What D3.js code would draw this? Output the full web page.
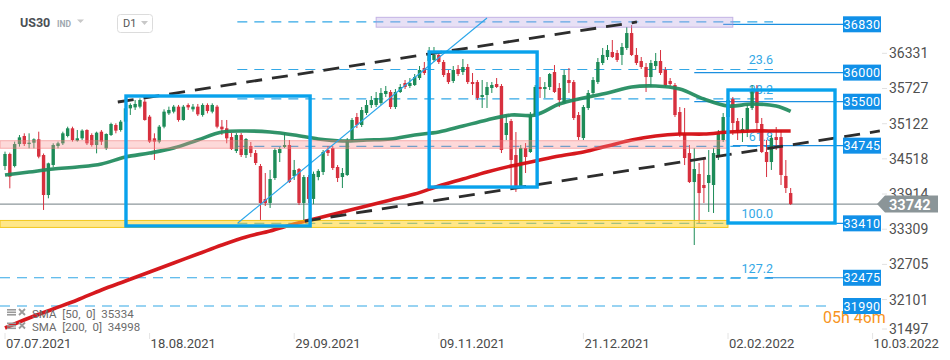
<!DOCTYPE html>
<html><head><meta charset="utf-8">
<script src="https://cdn.jsdelivr.net/npm/d3@7"></script>
<style>body{margin:0;background:#fff;} svg{display:block;font-family:Roboto,"Noto Sans",sans-serif;}</style>
</head><body><svg id="c" width="950" height="360"></svg>
<script>
// ---- DATA ----
const opens  = [34395,34602,34395,34773,34911,34773,34796,34854,34584,33897,34413,34739,34785,34911,35043,34831,34871,35014,34928,34756,34985,34699,34928,35100,35014,35157,35386,35403,35415,35501,35243,34871,34814,35071,35300,35329,35415,35186,35444,35369,35415,35272,35444,35329,35415,35071,35043,34893,34653,34928,34584,34739,34618,34395,33828,33760,34189,34618,34722,34756,34224,34344,33760,34206,33830,34206,34292,34670,34704,34378,34206,34241,34842,35237,35100,35306,35443,35443,35478,35632,35667,35409,35667,35821,35770,35787,35907,36079,36200,36217,36303,36182,35993,35856,36062,36010,36096,35838,35838,35581,35615,35735,35804,35770,34928,35168,34584,34034,34704,34636,35271,35753,35718,35753,36010,35735,35478,35873,35838,35271,34876,35392,35650,35838,36165,36268,36354,36337,36303,36423,36680,36303,36199,36096,35924,36113,36199,36045,35856,35787,35323,34945,34618,34120,34258,34069,34103,34069,34550,34842,35237,35546,35168,34979,35014,35392,35701,35117,34636,34464,34893,34893,34224,33931];
const highs  = [34642,34625,34814,34928,34957,34957,34871,34985,34610,34453,34785,34814,34985,35071,35071,35014,35026,35026,34957,34985,35014,34957,35140,35129,35186,35415,35472,35529,35558,35541,35272,34957,35100,35369,35415,35444,35444,35444,35472,35461,35461,35472,35472,35472,35444,35186,35186,34962,34962,34962,34876,34808,34670,34430,34275,34327,34704,34722,34962,34842,34499,34361,34241,34241,34300,34340,34670,34739,34739,34412,34361,34876,35220,35306,35409,35529,35598,35667,35735,35770,35701,35718,35804,35873,35907,35976,36113,36182,36440,36440,36354,36217,36045,36113,36130,36234,36148,35993,35873,35873,35838,35838,35907,35804,35271,35203,34979,34756,34790,35323,35787,35924,35838,35993,36130,35821,36045,36079,35873,35323,35443,35701,35924,36251,36423,36474,36560,36388,36509,36783,36818,36423,36268,36165,36217,36337,36388,36096,35907,35821,35409,35392,34756,34704,34447,34550,34670,34704,35014,35306,35581,35581,35220,35220,35443,35787,35787,35220,34842,34928,35065,35014,34498,34017];
const lows   = [34327,34012,34372,34728,34739,34699,34699,34527,33640,33840,34372,34699,34756,34888,34814,34814,34842,34756,34728,34613,34756,34670,34911,34957,34985,35140,35272,35358,35386,35174,34790,34499,34785,35043,35272,35300,35157,35174,35358,35329,35254,35243,35300,35300,35043,34928,34785,34670,34618,34550,34533,34550,34412,33468,33708,33674,34155,34464,34704,34103,34155,33725,33468,33760,33740,34150,34241,34567,34327,34120,34017,34224,34808,35048,35065,35271,35392,35409,35443,35581,35375,35375,35650,35718,35735,35770,35873,35959,36079,36182,36148,35924,35804,35821,35941,35959,35804,35615,35529,35392,35392,35650,35735,34618,34842,34017,33949,34017,34275,34620,35237,35564,35564,35701,35650,35409,35460,35650,35186,34842,34842,35357,35615,35804,36130,36217,36251,36182,36130,36388,36285,36130,36062,35667,35753,36045,35959,35753,35770,35237,34893,34412,34103,33038,33416,33760,33605,33588,34498,34808,35203,34928,34842,34808,34893,35357,35014,34618,34206,34327,34670,34069,33931,33725];
const closes = [34602,34212,34773,34888,34773,34796,34854,34556,33897,34441,34756,34785,34957,35043,34842,34871,35003,34785,34756,34968,34814,34945,35117,35003,35157,35386,35444,35461,35529,35186,34814,34814,35071,35329,35358,35415,35186,35415,35403,35415,35283,35444,35340,35444,35071,35026,34871,34687,34928,34584,34859,34618,34447,33760,33760,34172,34670,34687,34756,34120,34327,33760,34206,33830,34260,34310,34636,34618,34361,34189,34275,34842,35186,35100,35357,35443,35529,35564,35650,35684,35409,35667,35753,35753,35821,35924,36045,35993,36300,36303,36182,35959,35838,36045,35976,36096,35838,35804,35564,35615,35753,35787,35753,34670,35134,34499,34017,34704,34550,35271,35753,35718,35753,35976,35667,35529,35959,35821,35220,34893,35409,35650,35873,36182,36303,36388,36268,36217,36440,36680,36303,36165,36096,35924,36165,36199,35993,35787,35804,35271,34945,34533,34120,34344,33931,34017,34241,34618,34962,35237,35529,35134,34997,35031,35392,35701,35134,34636,34464,34876,34842,34241,34017,33742];

const smaIdx    = [0,5,10,15,20,25,30,35,40,45,50,55,60,65,70,75,80,85,90,95,100,105,110,115,120,125,130,135,140,145,150,155,160,163];
const sma50     = [34241,34292,34344,34378,34430,34550,34618,34704,34842,34979,34997,34979,34928,34859,34825,34842,34859,34928,34979,35082,35186,35271,35271,35460,35564,35650,35753,35770,35718,35546,35426,35460,35426,35334];
const sma200    = [31612,31784,31939,32093,32265,32420,32574,32729,32883,33038,33176,33279,33399,33502,33605,33708,33811,33914,34052,34172,34292,34395,34481,34567,34636,34739,34842,34911,34945,34945,34979,34997,34997,34998];

const dateIdx    = [0,30,60,90,120,150,180];
const dateLabels = ["07.07.2021","18.08.2021","29.09.2021","09.11.2021","21.12.2021","02.02.2022","10.03.2022"];
const yTicks     = [36331,35727,35122,34518,33914,33309,32705,32101,31497];

const levels     = [36830,36000,35500,34745,33410,32475,31990];
const levelFrom  = [149,143,143,151,150,158,0];     // bar index where level line starts
const fibTop = 36870, fibBottom = 33410;
const fibRatios  = [0,23.6,38.2,61.8,100,127.2];
const fibLabels  = ["","23.6","38.2","61.8","100.0","127.2"];
const lastPrice  = 33742;
const bands      = [[34700,34830],[33340,33460],[36780,36950]];
const bandFrom   = [-1,-1,77];
const bandTo     = [150,150,151];
// trend lines: [i0, v0, i1, v1]
const trendBlack = [[23.4,35495,131.1,36870],[62.2,33450,181.5,34997]];
const trendBlue  = [48.3,33416,100,36938];
// boxes: [i0, i1, vTop, vBottom]
const boxes      = [[25.1,63.3,35598,33365],[88,110.4,36354,34034],[150,172.2,35701,33416]];

// ---- SCALES ----
const svg = d3.select("#c");
const x = d3.scaleLinear().domain([0,180]).range([5,872.6]);
const y = d3.scaleLinear().domain([36830,31990]).range([24.3,306]);
const upC = "#1d8c58", dnC = "#d7303e", blue = "#33a8e6";

// header
svg.append("text").attr("x",20).attr("y",27).attr("font-size",12.5).attr("font-weight",700).attr("fill","#4b5055").text("US30");
svg.append("text").attr("x",57).attr("y",26.5).attr("font-size",8.5).attr("font-weight",700).attr("fill","#a0a8b0").text("IND");
svg.append("path").attr("d","M77,19.5 L84,19.5 L80.5,23 Z").attr("fill","#c8c8c8");
svg.append("rect").attr("x",117.5).attr("y",14.5).attr("width",35).attr("height",18).attr("rx",3).attr("fill","#fff").attr("stroke","#dcdcdc");
svg.append("text").attr("x",123).attr("y",27).attr("font-size",11).attr("fill","#555").text("D1");
svg.append("path").attr("d","M141,21 L148,21 L144.5,25 Z").attr("fill","#c8c8c8");

const g = svg.append("g");
const fibVal = r => fibTop - (fibTop - fibBottom) * r / 100;

// fib labels (behind candles)
fibRatios.forEach((r,k)=>{
  if(!fibLabels[k]) return;
  g.append("text").attr("x",773).attr("y",y(fibVal(r))-5).attr("text-anchor","end")
   .attr("font-size",12.5).attr("fill",blue).text(fibLabels[k]);
});
// fib dashed lines
fibRatios.forEach(r=>{
  g.append("line").attr("x1",x(48.2)).attr("x2",773).attr("y1",y(fibVal(r))).attr("y2",y(fibVal(r)))
   .attr("stroke",blue).attr("stroke-width",1.2).attr("stroke-dasharray","10,7");
});
// dashed full-width lines for lower levels
[32475,31990].forEach((v,k)=>{
  g.append("line").attr("x1",0).attr("x2",k?830:770).attr("y1",y(v)).attr("y2",y(v))
   .attr("stroke",blue).attr("stroke-width",1.2).attr("stroke-dasharray","10,7");
});
// solid level lines
levels.forEach((v,k)=>{
  if(levelFrom[k]===0) return;
  g.append("line").attr("x1",x(levelFrom[k])).attr("x2",845).attr("y1",y(v)).attr("y2",y(v))
   .attr("stroke","#1b8fe0").attr("stroke-width",1.2);
});
// last price line
g.append("line").attr("x1",0).attr("x2",878).attr("y1",y(lastPrice)).attr("y2",y(lastPrice))
 .attr("stroke","#8d979b").attr("stroke-width",1.2);

// candles
const idx = d3.range(opens.length);
const cg = g.append("g");
cg.selectAll("line.w").data(idx).join("line")
  .attr("x1",i=>x(i)).attr("x2",i=>x(i)).attr("y1",i=>y(highs[i])).attr("y2",i=>y(lows[i]))
  .attr("stroke",i=>closes[i]>=opens[i]?upC:dnC).attr("stroke-width",1);
cg.selectAll("rect.b").data(idx).join("rect")
  .attr("x",i=>x(i)-1.7).attr("width",3.4)
  .attr("y",i=>y(Math.max(opens[i],closes[i])))
  .attr("height",i=>Math.max(1,Math.abs(y(opens[i])-y(closes[i]))))
  .attr("fill",i=>closes[i]>=opens[i]?upC:dnC);

// SMA lines
const line = d3.line().x((d,k)=>x(smaIdx[k])).y(d=>y(d)).curve(d3.curveCatmullRom);
g.append("path").attr("d",line(sma200)).attr("fill","none").attr("stroke","#d40d12").attr("stroke-width",3.6).attr("opacity",0.95);
g.append("path").attr("d",line(sma50)).attr("fill","none").attr("stroke","#1e8a5c").attr("stroke-width",3.6).attr("opacity",0.92);

// bands
const bandFill = ["rgba(250,140,140,0.33)","rgba(255,212,40,0.55)","rgba(185,165,225,0.35)"];
const bandStroke = ["rgba(240,120,120,0.55)","rgba(240,190,0,0.85)","rgba(165,140,215,0.6)"];
bands.forEach((b,k)=>{
  const x0 = bandFrom[k]<0?0:x(bandFrom[k]);
  g.append("rect").attr("x",x0).attr("width",x(bandTo[k])-x0).attr("y",y(b[1])).attr("height",y(b[0])-y(b[1]))
   .attr("fill",bandFill[k]).attr("stroke",bandStroke[k]).attr("stroke-width",1);
});

// trend lines
trendBlack.forEach(t=>{
  g.append("line").attr("x1",x(t[0])).attr("y1",y(t[1])).attr("x2",x(t[2])).attr("y2",y(t[3]))
   .attr("stroke","#2d2d2d").attr("stroke-width",2.8).attr("stroke-dasharray","16,10");
});
g.append("line").attr("x1",x(trendBlue[0])).attr("y1",y(trendBlue[1])).attr("x2",x(trendBlue[2])).attr("y2",y(trendBlue[3]))
 .attr("stroke","#2aa6ea").attr("stroke-width",1.1);

// boxes
boxes.forEach(b=>{
  g.append("rect").attr("x",x(b[0])).attr("y",y(b[2])).attr("width",x(b[1])-x(b[0])).attr("height",y(b[3])-y(b[2]))
   .attr("fill","none").attr("stroke","#08a2ec").attr("stroke-width",3.4);
});

// countdown text (partly under label)
svg.append("text").attr("x",823).attr("y",323).attr("font-size",16).attr("fill","#f7941d").text("05h 46m");

// level label boxes
levels.forEach(v=>{
  svg.append("rect").attr("x",843).attr("y",y(v)-8).attr("width",38).attr("height",16).attr("fill","#1190e8");
  svg.append("text").attr("x",862).attr("y",y(v)+4.5).attr("text-anchor","middle").attr("font-size",12.5)
    .attr("letter-spacing",0.4).attr("fill","#fff").text(v);
});

// right axis
yTicks.forEach(v=>{
  const yy = Math.min(y(v),329);
  svg.append("line").attr("x1",882).attr("x2",887).attr("y1",yy).attr("y2",yy).attr("stroke","#e2e2e2");
  svg.append("text").attr("x",889).attr("y",yy+5).attr("font-size",14).attr("fill","#505050").text(v);
});
// last price tag
const ly = y(lastPrice);
svg.append("path").attr("d",`M877,${ly} L885,${ly-8.5} L938,${ly-8.5} L938,${ly+8.5} L885,${ly+8.5} Z`).attr("fill","#8b9598");
svg.append("text").attr("x",889).attr("y",ly+5.5).attr("font-size",14.5).attr("font-weight",700).attr("fill","#fff").text(lastPrice);

// x axis
dateIdx.forEach((d,k)=>{
  svg.append("line").attr("x1",x(d)).attr("x2",x(d)).attr("y1",333).attr("y2",339).attr("stroke","#e4e4e4");
  svg.append("text").attr("x",x(d)+1).attr("y",348).attr("font-size",13).attr("fill","#4a4a4a").text(dateLabels[k]);
});

// legend
const legend = ["SMA  [50,  0]  "+sma50[sma50.length-1], "SMA  [200,  0]  "+sma200[sma200.length-1]];
legend.forEach((t,k)=>{
  const yy = 314 + k*13.5;
  [0,2.5,5].forEach(o=>svg.append("rect").attr("x",7).attr("y",yy-5+o).attr("width",9).attr("height",1.6).attr("fill","#9a9a9a"));
  svg.append("path").attr("d",`M19,${yy-5} L25,${yy+1} M25,${yy-5} L19,${yy+1}`).attr("stroke","#9a9a9a").attr("stroke-width",1.8);
  svg.append("text").attr("x",32).attr("y",yy+3.5).attr("font-size",11.5).attr("fill","#6b6b6b")
    .style("white-space","pre").text(t);
});
</script></body></html>
